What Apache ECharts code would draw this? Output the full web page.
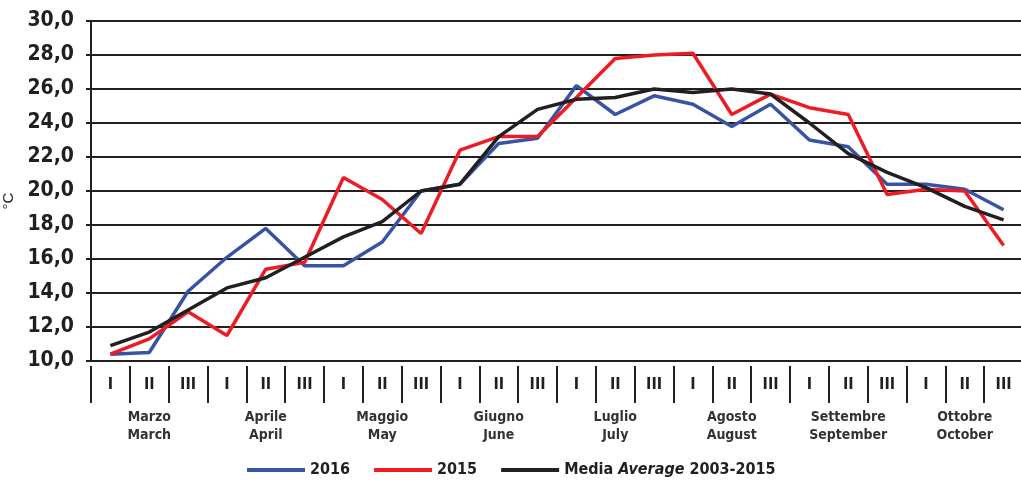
<!DOCTYPE html>
<html>
<head>
<meta charset="utf-8">
<script src="https://cdn.jsdelivr.net/npm/echarts@6/dist/echarts.min.js"></script>
<style>
  html, body { margin: 0; padding: 0; background: #fff; }
  #main { width: 1021px; height: 482px; }
</style>
</head>
<body>
<div id="main"></div>
<script>
// decadi (I, II, III) per mese
var decadi = ['I', 'II', 'III'];
var mesi = [
    ['Marzo', 'March'],
    ['Aprile', 'April'],
    ['Maggio', 'May'],
    ['Giugno', 'June'],
    ['Luglio', 'July'],
    ['Agosto', 'August'],
    ['Settembre', 'September'],
    ['Ottobre', 'October']
];
var yTicks = [10, 12, 14, 16, 18, 20, 22, 24, 26, 28, 30];

var temp2016 = [10.4, 10.5, 14.1, 16.1, 17.8, 15.6, 15.6, 17.0, 20.0, 20.4, 22.8, 23.1,
                26.2, 24.5, 25.6, 25.1, 23.8, 25.1, 23.0, 22.6, 20.4, 20.4, 20.1, 18.9];
var temp2015 = [10.4, 11.3, 12.9, 11.5, 15.4, 15.8, 20.8, 19.5, 17.5, 22.4, 23.2, 23.2,
                25.5, 27.8, 28.0, 28.1, 24.5, 25.7, 24.9, 24.5, 19.8, 20.1, 20.0, 16.8];
var media = [10.9, 11.7, 13.0, 14.3, 14.9, 16.1, 17.3, 18.2, 20.0, 20.4, 23.2, 24.8,
             25.4, 25.5, 26.0, 25.8, 26.0, 25.7, 24.0, 22.2, 21.1, 20.2, 19.1, 18.3];

var cats = [];
mesi.forEach(function(m, i) {
    decadi.forEach(function(d, j) {
        cats.push(i + '-' + j);
    });
});

var FONT = "'Liberation Sans Narrow', 'DejaVu Sans Condensed', 'Liberation Sans', sans-serif";
var DARK = '#231f20';

var myChart = echarts.init(document.getElementById('main'));

var option = {
    animation: false,
    backgroundColor: '#fff',
    grid: { left: 91, top: 21, width: 932, height: 340, containLabel: false, outerBoundsMode: 'none' },
    legend: {
        left: 242,
        top: 457,
        icon: 'rect',
        itemWidth: 58,
        itemHeight: 4,
        itemGap: 24,
        data: ['2016', '2015', 'Media'],
        textStyle: { fontFamily: FONT, fontSize: 16, fontWeight: 'bold', color: DARK,
            rich: {
                b: { fontFamily: FONT, fontSize: 16, fontWeight: 'bold', color: DARK },
                i: { fontFamily: FONT, fontSize: 16, fontWeight: 'bold', fontStyle: 'italic', color: DARK }
            }
        },
        formatter: function(name) {
            if (name === 'Media') {
                return '{b|Media }{i|Average}{b| 2003-2015}';
            }
            return name;
        }
    },
    xAxis: [
        {
            type: 'category',
            data: cats,
            boundaryGap: true,
            position: 'bottom',
            axisLine: { show: true, lineStyle: { color: DARK, width: 2 } },
            axisTick: { show: false },
            axisLabel: { show: false },
            splitLine: { show: false }
        },
        {
            type: 'category',
            data: cats,
            boundaryGap: true,
            position: 'bottom',
            offset: 5,
            axisLine: { show: false },
            axisTick: { show: true, length: 37, interval: 0, lineStyle: { color: DARK, width: 2 } },
            axisLabel: {
                interval: 0,
                margin: 11,
                fontFamily: FONT,
                fontSize: 16,
                fontWeight: 'bold',
                color: DARK,
                formatter: function(v) {
                    return decadi[parseInt(v.split('-')[1])];
                }
            }
        },
        {
            type: 'category',
            data: cats,
            boundaryGap: true,
            position: 'bottom',
            offset: 0,
            axisLine: { show: false },
            axisTick: { show: false },
            axisLabel: {
                interval: 0,
                margin: 47,
                fontFamily: FONT,
                fontSize: 14,
                fontWeight: 'bold',
                color: '#333',
                lineHeight: 18,
                formatter: function(v) {
                    var p = v.split('-');
                    if (p[1] !== '1') return '';
                    var m = mesi[parseInt(p[0])];
                    return m[0] + '\n' + m[1];
                }
            }
        }
    ],
    yAxis: {
        type: 'value',
        min: yTicks[0],
        max: yTicks[yTicks.length - 1],
        interval: 2,
        name: '°C',
        nameLocation: 'middle',
        nameGap: 70,
        nameRotate: 90,
        nameTextStyle: { fontFamily: "'Liberation Sans', sans-serif", fontSize: 15, color: DARK, padding: [0, 20, 0, 0] },
        axisLine: { show: true, lineStyle: { color: DARK, width: 2 } },
        axisTick: { show: true, length: 5, lineStyle: { color: DARK, width: 2 } },
        axisLabel: {
            margin: 17,
            fontFamily: FONT,
            fontSize: 21,
            fontWeight: 'bold',
            color: DARK,
            formatter: function(v) { return v.toFixed(1).replace('.', ','); }
        },
        splitLine: { show: true, lineStyle: { color: DARK, width: 2 } }
    },
    series: [
        {
            name: '2016',
            type: 'line',
            data: temp2016,
            symbol: 'none',
            color: '#3953a4',
            lineStyle: { width: 3.5, color: '#3953a4' }
        },
        {
            name: '2015',
            type: 'line',
            data: temp2015,
            symbol: 'none',
            color: '#ed1c24',
            lineStyle: { width: 3.5, color: '#ed1c24' }
        },
        {
            name: 'Media',
            type: 'line',
            data: media,
            symbol: 'none',
            color: '#231f20',
            lineStyle: { width: 3.5, color: '#231f20' }
        }
    ]
};

myChart.setOption(option);
</script>
</body>
</html>
